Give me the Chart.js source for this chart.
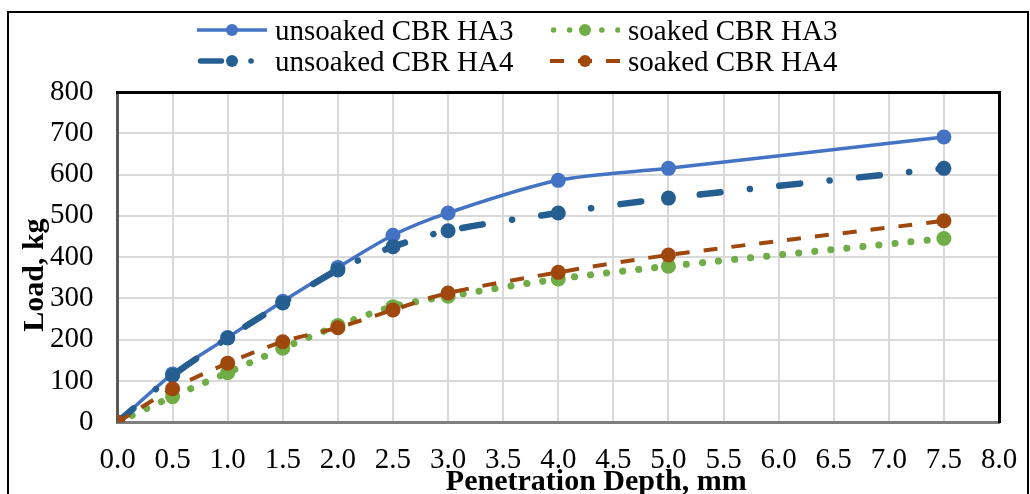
<!DOCTYPE html>
<html>
<head>
<meta charset="utf-8">
<script src="https://cdn.jsdelivr.net/npm/chart.js@4"></script>
<style>
  html, body { margin: 0; padding: 0; background: #fff; overflow: hidden; }
  #wrap { position: relative; width: 1030px; height: 494px; overflow: hidden; }
  #frame { position: absolute; left: 7px; top: 11px; width: 1018px; height: 600px; border: 2px solid #000; }
  #cbr { position: absolute; left: 0; top: 0; }
  #legend {
    position: absolute; left: 197px; top: 15px;
    display: grid; grid-template-columns: 353px auto; row-gap: 1px;
    font-family: "Liberation Serif", "Times New Roman", serif; font-size: 29px; color: #000;
  }
  #legend .item { display: flex; align-items: center; height: 30px; white-space: nowrap; }
  #legend canvas { margin-right: 8px; }
</style>
</head>
<body>
<div id="wrap">
  <div id="frame"></div>
  <canvas id="cbr" width="1030" height="494"></canvas>
  <div id="legend"></div>
</div>
<script>
// penetration depth (mm) and load (kg)
const depth = [0, 0.5, 1.0, 1.5, 2.0, 2.5, 3.0, 4.0, 5.0, 7.5];
const unsoakedHA3 = [0, 117, 205, 293, 375, 453, 507, 586, 615, 691];
const soakedHA3 = [0, 62, 120, 179, 234, 280, 305, 347, 378, 445];
const unsoakedHA4 = [0, 113, 204, 289, 369, 425, 464, 507, 543, 615];
const soakedHA4 = [0, 81, 143, 195, 229, 272, 313, 363, 405, 488];

const xTitle = "Penetration Depth, mm";
const yTitle = "Load, kg";

const serif = "'Liberation Serif', 'Times New Roman', serif";

function pts(ys) {
  return depth.map((x, i) => ({ x: x, y: ys[i] }));
}

const series = [
  { label: "unsoaked CBR HA3", data: unsoakedHA3, color: "#4472C4", width: 3.5, dash: [], cap: "butt", radius: 7.5, order: 4 },
  { label: "soaked CBR HA3", data: soakedHA3, color: "#70AD47", width: 7, dash: [0.1, 16], cap: "round", radius: 7.5, order: 3 },
  { label: "unsoaked CBR HA4", data: unsoakedHA4, color: "#255E91", width: 6.5, dash: [21, 29.5, 0.1, 29.4], cap: "round", radius: 7.5, order: 2 },
  { label: "soaked CBR HA4", data: soakedHA4, color: "#9E480E", width: 4, dash: [14, 14], cap: "butt", radius: 7.5, order: 1 },
];

// legend swatches: line style + marker
const legend = document.getElementById("legend");
series.forEach((s, i) => {
  const item = document.createElement("div");
  item.className = "item";
  const c = document.createElement("canvas");
  c.width = 70; c.height = 22;
  const g = c.getContext("2d");
  g.strokeStyle = s.color;
  g.lineWidth = Math.min(s.width, 5.5);
  g.lineCap = s.cap;
  g.setLineDash(s.dash);
  g.beginPath();
  g.moveTo(s.cap == "round" ? 3.5 : 0, 11);
  g.lineTo(70, 11);
  g.stroke();
  g.fillStyle = s.color;
  g.beginPath();
  g.arc(35, 11, 6, 0, Math.PI * 2);
  g.fill();
  item.appendChild(c);
  const t = document.createElement("span");
  t.textContent = s.label;
  item.appendChild(t);
  legend.appendChild(item);
});

// axis titles, placed by hand relative to the plot area
const axisTitles = {
  id: "axisTitles",
  afterDraw(chart) {
    const ctx = chart.ctx;
    const a = chart.chartArea;
    ctx.save();
    ctx.font = "bold 30px " + serif;
    ctx.fillStyle = "#000";
    ctx.textAlign = "center";
    ctx.textBaseline = "middle";
    ctx.fillText(xTitle, (a.left + a.right) / 2 + 38, a.bottom + 60);
    ctx.translate(35, (a.top + a.bottom) / 2 + 18);
    ctx.rotate(-Math.PI / 2);
    ctx.fillText(yTitle, 0, 0);
    ctx.restore();
  }
};

new Chart(document.getElementById("cbr"), {
  type: "line",
  data: {
    datasets: series.map((s) => ({
      label: s.label,
      data: pts(s.data),
      borderColor: s.color,
      backgroundColor: s.color,
      borderWidth: s.width,
      borderDash: s.dash,
      borderCapStyle: s.cap,
      pointRadius: s.radius,
      pointHoverRadius: s.radius,
      pointBorderWidth: 0,
      pointBackgroundColor: s.color,
      tension: 0.3,
      fill: false,
      order: s.order,
    })),
  },
  options: {
    responsive: false,
    animation: false,
    layout: { padding: { top: 92, left: 26, right: 31, bottom: 16 } },
    plugins: {
      legend: { display: false },
      tooltip: { enabled: false },
    },
    scales: {
      x: {
        type: "linear",
        min: 0,
        max: 8,
        ticks: {
          stepSize: 0.5,
          padding: 0,
          color: "#000",
          font: { family: serif, size: 29 },
          callback: (v) => v.toFixed(1),
        },
        // invisible tick marks just push the labels down
        grid: { color: "#d9d9d9", lineWidth: 2, drawTicks: true, tickLength: 21, tickColor: "rgba(0,0,0,0)" },
        border: { color: "#7f7f7f", width: 3 },
      },
      y: {
        min: 0,
        max: 800,
        ticks: {
          stepSize: 100,
          padding: 24,
          color: "#000",
          font: { family: serif, size: 29 },
        },
        grid: { color: "#d9d9d9", lineWidth: 2, drawTicks: false },
        border: { color: "#595959", width: 3 },
      },
      xTop: {
        type: "linear",
        position: "top",
        min: 0,
        max: 8,
        ticks: { display: false },
        grid: { drawOnChartArea: false, drawTicks: false },
        border: { color: "#000", width: 3 },
      },
      yRight: {
        type: "linear",
        position: "right",
        min: 0,
        max: 800,
        ticks: { display: false },
        grid: { drawOnChartArea: false, drawTicks: false },
        border: { color: "#000", width: 3 },
      },
    },
  },
  plugins: [axisTitles],
});
</script>
</body>
</html>
